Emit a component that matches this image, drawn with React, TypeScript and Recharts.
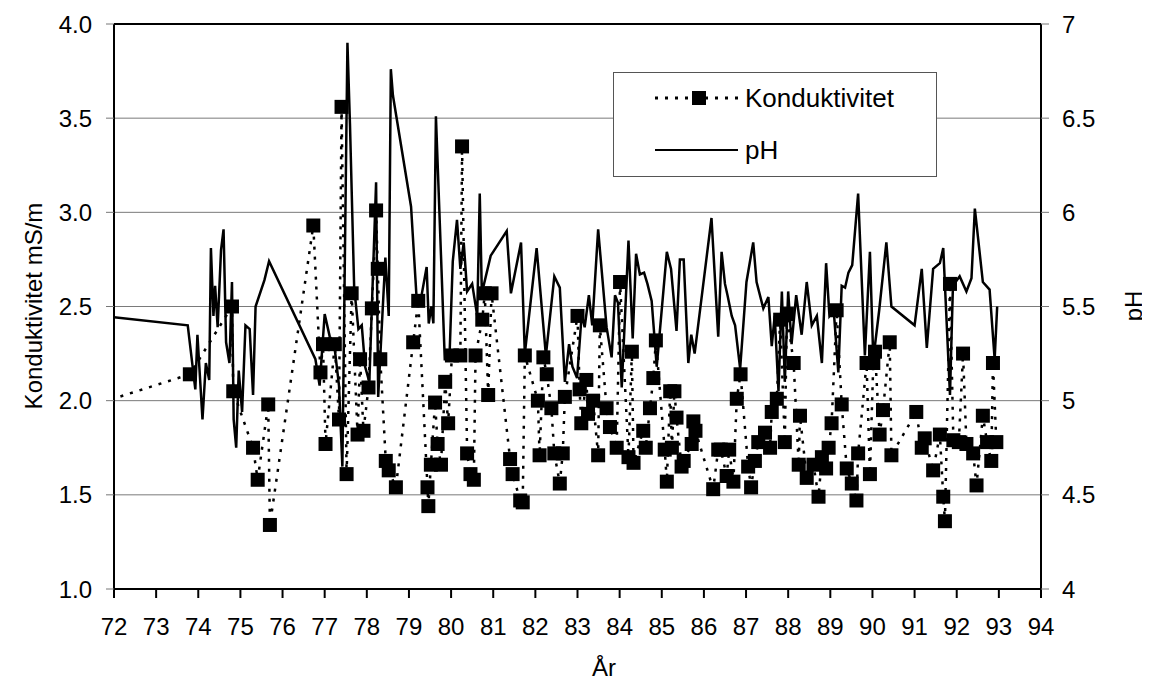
import { ComposedChart, Line, XAxis, YAxis, CartesianGrid, ReferenceLine } from 'recharts'

const YEAR_TICKS = [72, 73, 74, 75, 76, 77, 78, 79, 80, 81, 82, 83, 84, 85, 86, 87, 88, 89, 90, 91, 92, 93, 94]
const COND_TICKS = [1, 1.5, 2, 2.5, 3, 3.5, 4]
const PH_TICKS = [4, 4.5, 5, 5.5, 6, 6.5, 7]

// Konduktivitet (mS/m)
const condYears = [
  71.7, 73.8, 74.8, 74.83, 75.3, 75.41, 75.66, 75.7, 76.73, 76.9,
  76.96, 77.02, 77.24, 77.34, 77.4, 77.52, 77.64, 77.78, 77.84, 77.92,
  78.04, 78.12, 78.22, 78.26, 78.32, 78.45, 78.52, 78.69, 79.1, 79.22,
  79.44, 79.46, 79.52, 79.62, 79.68, 79.76, 79.86, 79.93, 80.02, 80.22,
  80.26, 80.38, 80.46, 80.54, 80.58, 80.74, 80.8, 80.88, 80.96, 81.4,
  81.46, 81.64, 81.7, 81.75, 82.06, 82.1, 82.19, 82.27, 82.38, 82.45,
  82.58, 82.65, 82.7, 83.0, 83.05, 83.09, 83.21, 83.25, 83.37, 83.49,
  83.53, 83.69, 83.77, 83.93, 84.01, 84.21, 84.29, 84.33, 84.56, 84.62,
  84.72, 84.8, 84.86, 85.07, 85.12, 85.2, 85.24, 85.3, 85.35, 85.47,
  85.52, 85.71, 85.75, 85.8, 86.22, 86.34, 86.4, 86.54, 86.6, 86.7,
  86.78, 86.87, 87.05, 87.12, 87.21, 87.29, 87.45, 87.57, 87.61, 87.73,
  87.81, 87.92, 87.97, 88.13, 88.25, 88.28, 88.44, 88.6, 88.72, 88.8,
  88.9, 88.96, 89.03, 89.15, 89.27, 89.39, 89.51, 89.62, 89.66, 89.86,
  89.94, 90.02, 90.06, 90.17, 90.25, 90.41, 90.45, 91.04, 91.17, 91.24,
  91.44, 91.6, 91.68, 91.72, 91.84, 91.92, 92.05, 92.15, 92.23, 92.39,
  92.47, 92.62, 92.72, 92.82, 92.86, 92.94,
]
const condValues = [
  1.99, 2.14, 2.5, 2.05, 1.75, 1.58, 1.98, 1.34, 2.93, 2.15,
  2.3, 1.77, 2.3, 1.9, 3.56, 1.61, 2.57, 1.82, 2.22, 1.84,
  2.07, 2.49, 3.01, 2.7, 2.22, 1.68, 1.63, 1.54, 2.31, 2.53,
  1.54, 1.44, 1.66, 1.99, 1.77, 1.66, 2.1, 1.88, 2.24, 2.24,
  3.35, 1.72, 1.61, 1.58, 2.24, 2.43, 2.57, 2.03, 2.57, 1.69,
  1.61, 1.47, 1.46, 2.24, 2.0, 1.71, 2.23, 2.14, 1.96, 1.72,
  1.56, 1.72, 2.02, 2.45, 2.06, 1.88, 2.11, 1.93, 2.0, 1.71,
  2.4, 1.96, 1.86, 1.75, 2.63, 1.7, 2.26, 1.67, 1.84, 1.75,
  1.96, 2.12, 2.32, 1.74, 1.57, 2.05, 1.75, 2.05, 1.91, 1.65,
  1.68, 1.77, 1.89, 1.84, 1.53, 1.74, 1.74, 1.6, 1.74, 1.57,
  2.01, 2.14, 1.65, 1.54, 1.68, 1.78, 1.83, 1.75, 1.94, 2.01,
  2.43, 1.78, 2.46, 2.2, 1.66, 1.92, 1.59, 1.66, 1.49, 1.7,
  1.64, 1.75, 1.88, 2.48, 1.98, 1.64, 1.56, 1.47, 1.72, 2.2,
  1.61, 2.2, 2.26, 1.82, 1.95, 2.31, 1.71, 1.94, 1.75, 1.8,
  1.63, 1.82, 1.49, 1.36, 2.62, 1.79, 1.78, 2.25, 1.77, 1.72,
  1.55, 1.92, 1.78, 1.68, 2.2, 1.78,
]

// pH
const phYears = [
  71.7, 73.75, 73.93, 73.98, 74.1, 74.18, 74.26, 74.3, 74.36, 74.4,
  74.46, 74.54, 74.6, 74.66, 74.74, 74.8, 74.84, 74.9, 74.96, 75.04,
  75.12, 75.22, 75.3, 75.36, 75.57, 75.68, 76.78, 76.88, 77.0, 77.12,
  77.22, 77.34, 77.42, 77.54, 77.6, 77.7, 77.8, 77.88, 77.96, 78.06,
  78.22, 78.27, 78.44, 78.52, 78.57, 78.62, 79.05, 79.18, 79.3, 79.42,
  79.47, 79.53, 79.58, 79.64, 79.85, 79.96, 80.04, 80.14, 80.22, 80.3,
  80.38, 80.5, 80.62, 80.68, 80.73, 80.94, 81.32, 81.42, 81.66, 81.75,
  82.03, 82.25, 82.45, 82.58, 82.7, 82.8, 82.88, 82.99, 83.1, 83.17,
  83.27, 83.35, 83.49, 83.69, 83.81, 83.89, 83.96, 84.05, 84.21, 84.31,
  84.39, 84.48, 84.58, 84.66, 84.76, 84.88, 85.12, 85.22, 85.35, 85.43,
  85.52, 85.63, 85.7, 85.78, 86.18, 86.34, 86.42, 86.5, 86.56, 86.66,
  86.74, 86.86, 87.01, 87.17, 87.25, 87.41, 87.53, 87.61, 87.68, 87.77,
  87.85, 87.92, 88.0, 88.08, 88.19, 88.32, 88.44, 88.56, 88.68, 88.8,
  88.9, 88.98, 89.08, 89.19, 89.27, 89.35, 89.43, 89.52, 89.66, 89.82,
  89.94, 90.02, 90.16, 90.33, 90.45, 91.0, 91.17, 91.29, 91.44, 91.6,
  91.68, 91.84, 91.91, 92.07, 92.23, 92.35, 92.43, 92.62, 92.78, 92.9,
  92.96,
]
const phValues = [
  5.45, 5.4, 5.06, 5.35, 4.9, 5.2, 5.11, 5.81, 5.45, 5.61,
  5.39, 5.8, 5.91, 5.31, 5.2, 5.63, 4.9, 4.75, 5.16, 4.94,
  5.4, 5.38, 5.03, 5.5, 5.64, 5.74, 5.22, 5.08, 5.46, 5.34,
  5.31, 5.08, 4.65, 6.9, 6.47, 5.6, 5.38, 5.4, 5.18, 5.1,
  6.16, 5.02, 5.76, 5.45, 6.76, 6.62, 6.03, 5.55, 5.56, 5.71,
  5.41, 5.5, 5.41, 6.51, 5.22, 5.22, 5.74, 5.96, 5.7, 5.84,
  5.58, 5.62, 5.45, 6.1, 5.57, 5.77, 5.9, 5.57, 5.84, 5.25,
  5.81, 5.24, 5.66, 5.6, 5.1, 5.3, 5.18, 5.12, 5.46, 5.39,
  5.56, 5.4, 5.91, 5.39, 5.23, 5.56, 5.52, 5.07, 5.85, 5.33,
  5.78, 5.67, 5.68, 5.62, 5.53, 5.18, 5.79, 5.7, 5.37, 5.75,
  5.75, 5.2, 5.35, 5.25, 5.97, 5.34, 5.79, 5.62, 5.56, 5.45,
  5.4, 5.17, 5.63, 5.84, 5.63, 5.49, 5.55, 5.29, 5.45, 5.05,
  5.58, 5.1, 5.58, 5.3, 5.56, 5.35, 5.63, 5.4, 5.45, 5.2,
  5.73, 5.45, 5.48, 5.15, 5.61, 5.6, 5.68, 5.72, 6.1, 5.24,
  5.79, 5.22, 5.48, 5.84, 5.5, 5.4, 5.7, 5.28, 5.7, 5.73,
  5.81, 5.03, 5.61, 5.66, 5.58, 5.65, 6.02, 5.63, 5.59, 5.22,
  5.5,
]

const condData = condYears.map((year, i) => ({ year, cond: condValues[i] }))
const phData = phYears.map((year, i) => ({ year, ph: phValues[i] }))

const FONT = '"Liberation Sans", Arial, Helvetica, sans-serif'
const tickStyle = { fontSize: 24, fill: '#000', fontFamily: FONT }

function Square(props: any) {
  const { cx, cy, index } = props
  if (cx == null || cy == null) return null
  return <rect key={'sq' + index} x={cx - 7} y={cy - 7} width={14} height={14} fill="#000" />
}

function LegendBox() {
  return (
    <div
      style={{
        position: 'absolute', left: 605, top: 64, width: 324, height: 105,
        border: '1px solid #555', background: '#fff', boxSizing: 'border-box',
        fontFamily: FONT, fontSize: 26, color: '#000',
      }}
    >
      <svg width={90} height={105} style={{ position: 'absolute', left: 41, top: 0 }}>
        <line x1={0} y1={25} x2={88} y2={25} stroke="#000" strokeWidth={3} strokeDasharray="3 7" />
        <rect x={37} y={18} width={14} height={14} fill="#000" />
        <line x1={0} y1={77} x2={83} y2={77} stroke="#000" strokeWidth={2} />
      </svg>
      <div style={{ position: 'absolute', left: 131, top: 10, lineHeight: '30px' }}>Konduktivitet</div>
      <div style={{ position: 'absolute', left: 131, top: 62, lineHeight: '30px' }}>pH</div>
    </div>
  )
}

export default function App() {
  return (
    <div style={{ position: 'relative', width: 1134, height: 674, fontFamily: FONT }}>
      <ComposedChart width={1134} height={674} margin={{ top: 16, right: 41, bottom: 33, left: 26 }}>
        <CartesianGrid yAxisId="left" vertical={false} stroke="#7a7a7a" strokeWidth={1} />
        <XAxis
          dataKey="year" type="number" domain={[72, 94]} ticks={YEAR_TICKS} allowDataOverflow
          height={60} tickSize={9} tickMargin={20} tick={tickStyle}
          axisLine={{ stroke: '#000', strokeWidth: 2 }} tickLine={{ stroke: '#000', strokeWidth: 2 }}
        />
        <YAxis
          yAxisId="left" domain={[1, 4]} ticks={COND_TICKS} width={80} tickSize={8} tickMargin={14}
          tick={tickStyle} tickFormatter={(v: number) => v.toFixed(1)}
          axisLine={{ stroke: '#000', strokeWidth: 2 }} tickLine={{ stroke: '#777' }}
        />
        <YAxis
          yAxisId="right" orientation="right" domain={[4, 7]} ticks={PH_TICKS} width={60} tickSize={8} tickMargin={13}
          tick={tickStyle} tickFormatter={(v: number) => String(v)}
          axisLine={{ stroke: '#000', strokeWidth: 2 }} tickLine={{ stroke: '#777' }}
        />
        <ReferenceLine yAxisId="left" y={4} stroke="#000" strokeWidth={2} />
        <Line
          yAxisId="right" data={phData} dataKey="ph" type="linear" stroke="#000" strokeWidth={2.5}
          dot={false} activeDot={false} isAnimationActive={false}
        />
        <Line
          yAxisId="left" data={condData} dataKey="cond" type="linear" stroke="#000" strokeWidth={2.5}
          strokeDasharray="3 7" dot={<Square />} activeDot={false} isAnimationActive={false}
        />
      </ComposedChart>
      <LegendBox />
      <div
        style={{
          position: 'absolute', left: 26, top: 298, transform: 'translate(-50%, -50%) rotate(-90deg)',
          whiteSpace: 'nowrap', fontSize: 24,
        }}
      >
        Konduktivitet mS/m
      </div>
      <div
        style={{
          position: 'absolute', left: 1126, top: 298, transform: 'translate(-50%, -50%) rotate(-90deg)',
          whiteSpace: 'nowrap', fontSize: 24,
        }}
      >
        pH
      </div>
      <div style={{ position: 'absolute', left: 596, top: 660, transform: 'translate(-50%, -50%)', fontSize: 24 }}>
        År
      </div>
    </div>
  )
}
